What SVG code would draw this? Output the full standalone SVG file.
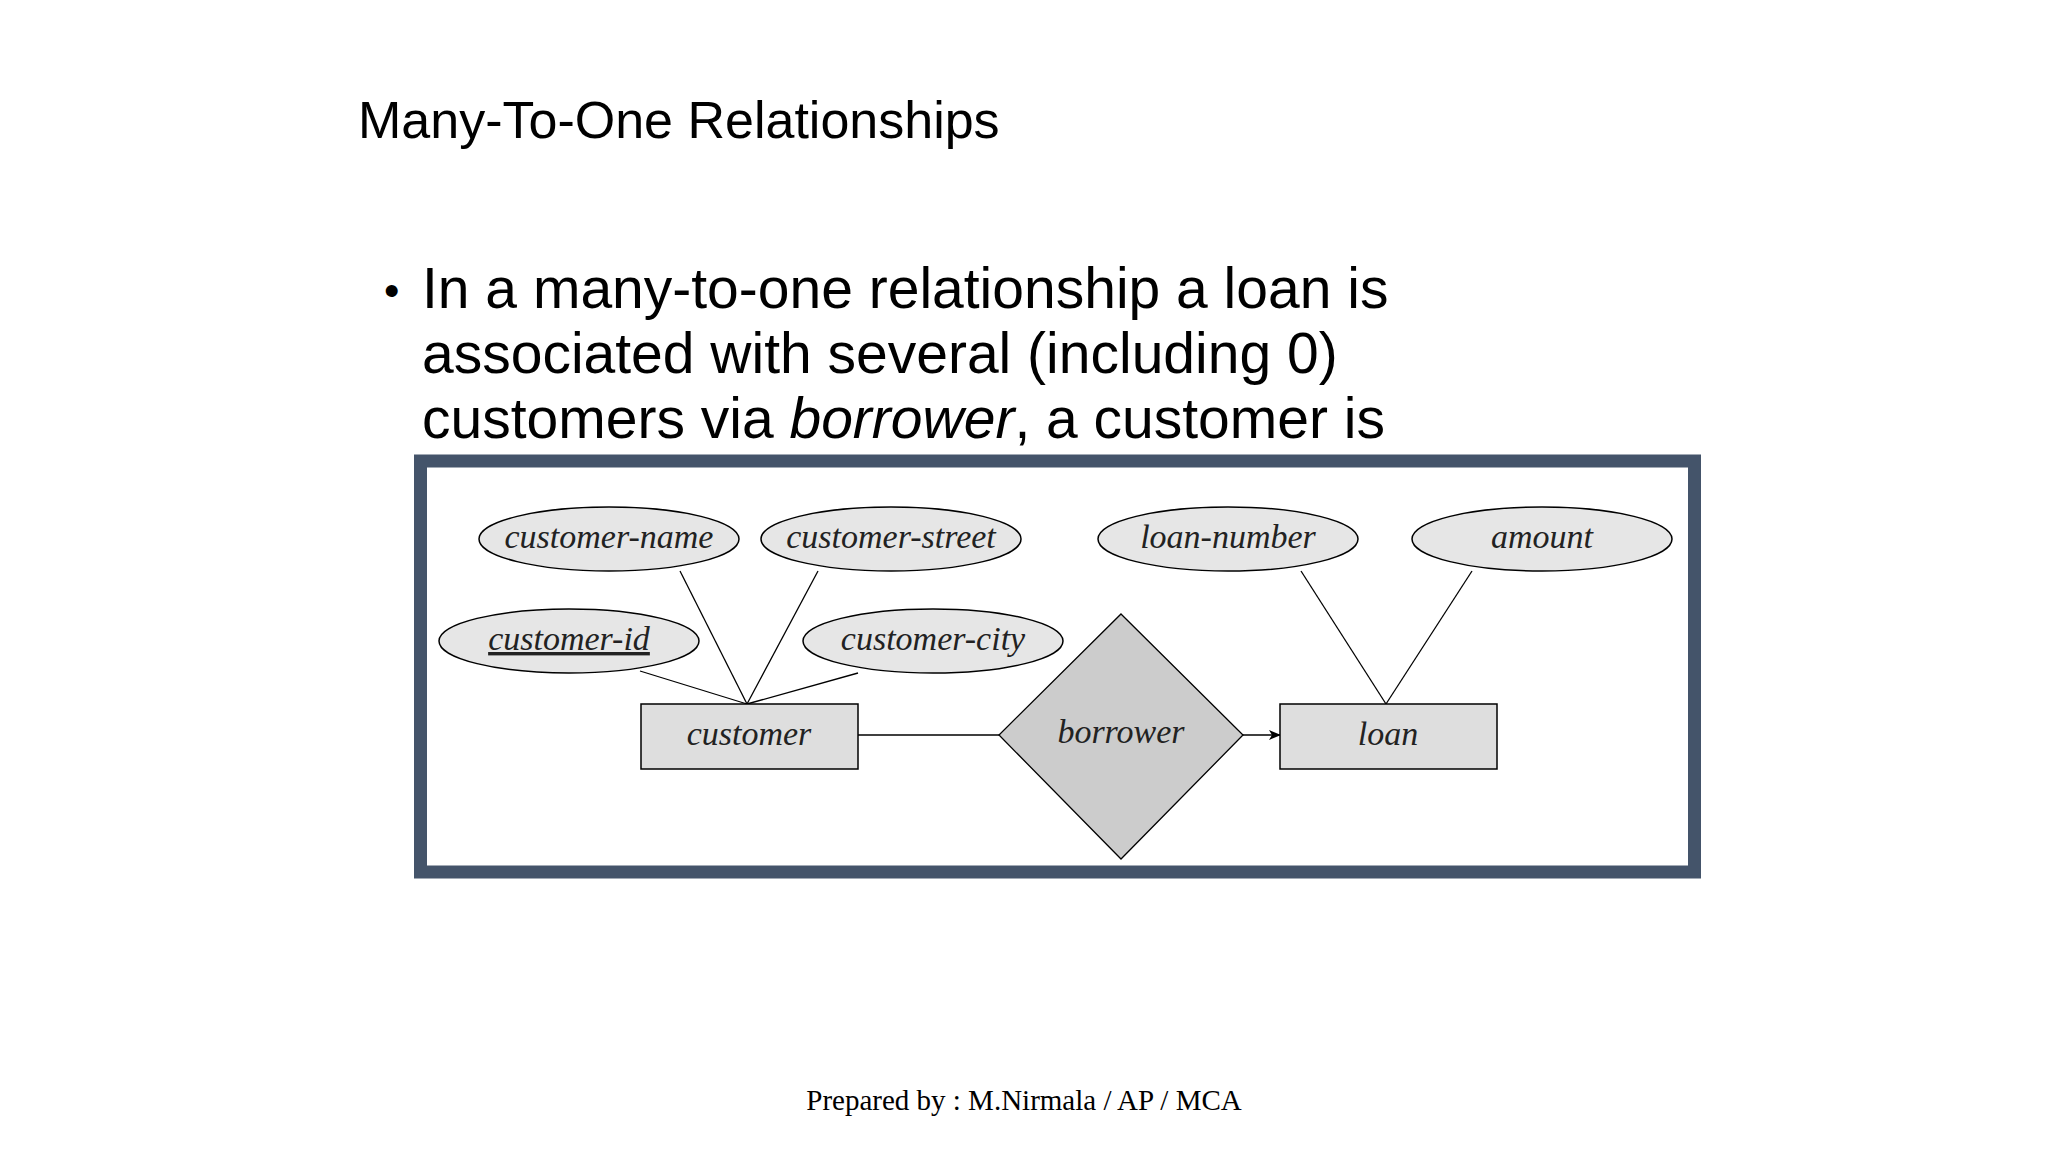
<svg xmlns="http://www.w3.org/2000/svg" width="2048" height="1152" viewBox="0 0 2048 1152">
<style>
.t{font-family:"Liberation Sans",Arial,sans-serif;fill:#000}
.a{fill:#e6e6e6;stroke:#000;stroke-width:1.5}
.e{fill:#dedede;stroke:#000;stroke-width:1.5}
.l{font-family:"Liberation Serif","DejaVu Serif",serif;font-style:italic;font-size:34px;text-anchor:middle;fill:#222}
.c{stroke:#000;stroke-width:1.3;fill:none}
</style>
<defs><marker id="ar" markerWidth="12" markerHeight="10" refX="11" refY="5" orient="auto" markerUnits="userSpaceOnUse"><path d="M0,0 L12,5 L0,10 L3,5 Z" fill="#000"/></marker></defs>
<rect width="2048" height="1152" fill="#fff"/>
<text class="t" x="358" y="138" font-size="52">Many-To-One Relationships</text>
<text class="t" x="384" y="306" font-size="44">•</text>
<text class="t" x="422" y="308" font-size="57">In a many-to-one relationship a loan is</text>
<text class="t" x="422" y="373" font-size="57">associated with several (including 0)</text>
<text class="t" x="422" y="438" font-size="57">customers via <tspan font-style="italic">borrower</tspan>, a customer is</text>
<rect x="420.5" y="461" width="1274" height="411" fill="#fff" stroke="#44546a" stroke-width="13"/>
<g id="connectors">
<line class="c" x1="680" y1="571" x2="747" y2="704"/>
<line class="c" x1="818" y1="571" x2="747" y2="704"/>
<line class="c" x1="640" y1="671" x2="747" y2="704"/>
<line class="c" x1="858" y1="673" x2="747" y2="704"/>
<line class="c" x1="1301" y1="571" x2="1386" y2="704"/>
<line class="c" x1="1472" y1="571" x2="1386" y2="704"/>
<line class="c" x1="858" y1="735" x2="999" y2="735"/>
<line class="c" x1="1243" y1="735" x2="1280" y2="735" marker-end="url(#ar)"/>
</g>
<g id="customer-name"><ellipse class="a" cx="609" cy="539" rx="130" ry="32"/><text class="l" x="609" y="548">customer-name</text></g>
<g id="customer-street"><ellipse class="a" cx="891" cy="539" rx="130" ry="32"/><text class="l" x="891" y="548">customer-street</text></g>
<g id="loan-number"><ellipse class="a" cx="1228" cy="539" rx="130" ry="32"/><text class="l" x="1228" y="548">loan-number</text></g>
<g id="amount"><ellipse class="a" cx="1542" cy="539" rx="130" ry="32"/><text class="l" x="1542" y="548">amount</text></g>
<g id="customer-id"><ellipse class="a" cx="569" cy="641" rx="130" ry="32"/><text class="l" x="569" y="650" text-decoration="underline">customer-id</text></g>
<g id="customer-city"><ellipse class="a" cx="933" cy="641" rx="130" ry="32"/><text class="l" x="933" y="650">customer-city</text></g>
<g id="customer"><rect class="e" x="641" y="704" width="217" height="65"/><text class="l" x="749" y="745">customer</text></g>
<g id="loan"><rect class="e" x="1280" y="704" width="217" height="65"/><text class="l" x="1388" y="745">loan</text></g>
<g id="borrower"><polygon points="1121,614 1243,735 1121,859 999,735" fill="#cccccc" stroke="#000" stroke-width="1.3"/><text class="l" x="1121" y="743">borrower</text></g>
<text x="1024" y="1110" font-family="Liberation Serif,serif" font-size="29" text-anchor="middle">Prepared by : M.Nirmala / AP / MCA</text>
</svg>
